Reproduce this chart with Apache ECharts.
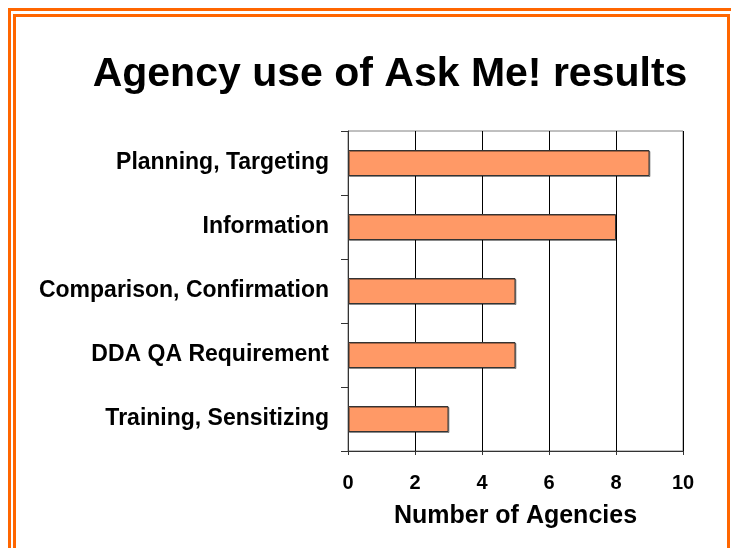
<!DOCTYPE html>
<html>
<head>
<meta charset="utf-8">
<script src="https://cdn.jsdelivr.net/npm/echarts@6/dist/echarts.min.js"></script>
<style>
html, body { margin: 0; padding: 0; background: #fff; }
#main { width: 731px; height: 548px; }
</style>
</head>
<body>
<div id="main"></div>
<script>
// categories, bottom to top as ECharts draws them
var categories = ['Training, Sensitizing', 'DDA QA Requirement', 'Comparison, Confirmation', 'Information', 'Planning, Targeting'];
var agencyCounts = [3, 5, 5, 8, 9];
var xTicks = [0, 2, 4, 6, 8, 10];

var chart = echarts.init(document.getElementById('main'));

var option = {
    backgroundColor: '#fff',
    animation: false,
    title: {
        text: 'Agency use of Ask Me! results',
        left: 385,
        top: 49,
        textAlign: 'center',
        textStyle: {
            fontFamily: 'Liberation Sans, Arial',
            fontSize: 41,
            fontWeight: 'bold',
            color: '#000'
        }
    },
    graphic: [
        // double orange frame
        { type: 'polyline', shape: { points: [[9.5, 560], [9.5, 9.5], [740, 9.5]] }, style: { stroke: '#ff6600', lineWidth: 3, fill: null } },
        { type: 'polyline', shape: { points: [[14.5, 560], [14.5, 15.5], [728.5, 15.5], [728.5, 560]] }, style: { stroke: '#ff6600', lineWidth: 3, fill: null } }
    ],
    grid: {
        left: 348,
        right: 48,
        top: 131,
        bottom: 97,
        show: true,
        borderColor: '#808080',
        borderWidth: 1,
        containLabel: false
    },
    xAxis: {
        type: 'value',
        min: 0,
        max: 10,
        interval: 2,
        name: 'Number of Agencies',
        nameLocation: 'middle',
        nameGap: 53,
        nameTextStyle: {
            fontFamily: 'Liberation Sans, Arial',
            fontSize: 25,
            fontWeight: 'bold',
            color: '#000'
        },
        axisLine: { show: true, lineStyle: { color: '#333', width: 1 } },
        axisTick: { show: true, length: 4, lineStyle: { color: '#333' } },
        axisLabel: {
            margin: 22,
            fontFamily: 'Liberation Sans, Arial',
            fontSize: 20,
            fontWeight: 'bold',
            color: '#000',
            formatter: function (v) { return xTicks.indexOf(v) >= 0 ? String(v) : ''; }
        },
        splitLine: { show: true, lineStyle: { color: '#000', width: 1 } }
    },
    yAxis: {
        type: 'category',
        data: categories,
        axisLine: { show: true, lineStyle: { color: '#333', width: 1 } },
        axisTick: { show: true, length: 7, alignWithLabel: false, lineStyle: { color: '#333' } },
        axisLabel: {
            margin: 19,
            fontFamily: 'Liberation Sans, Arial',
            fontSize: 23,
            fontWeight: 'bold',
            color: '#000'
        },
        splitLine: { show: false }
    },
    series: [{
        type: 'bar',
        data: agencyCounts,
        barWidth: 26,
        itemStyle: {
            color: '#ff9966',
            borderColor: '#333',
            borderWidth: 1,
            shadowColor: 'rgba(0,0,0,0.35)',
            shadowOffsetX: 1,
            shadowOffsetY: 1
        }
    }]
};

chart.setOption(option);
</script>
</body>
</html>
